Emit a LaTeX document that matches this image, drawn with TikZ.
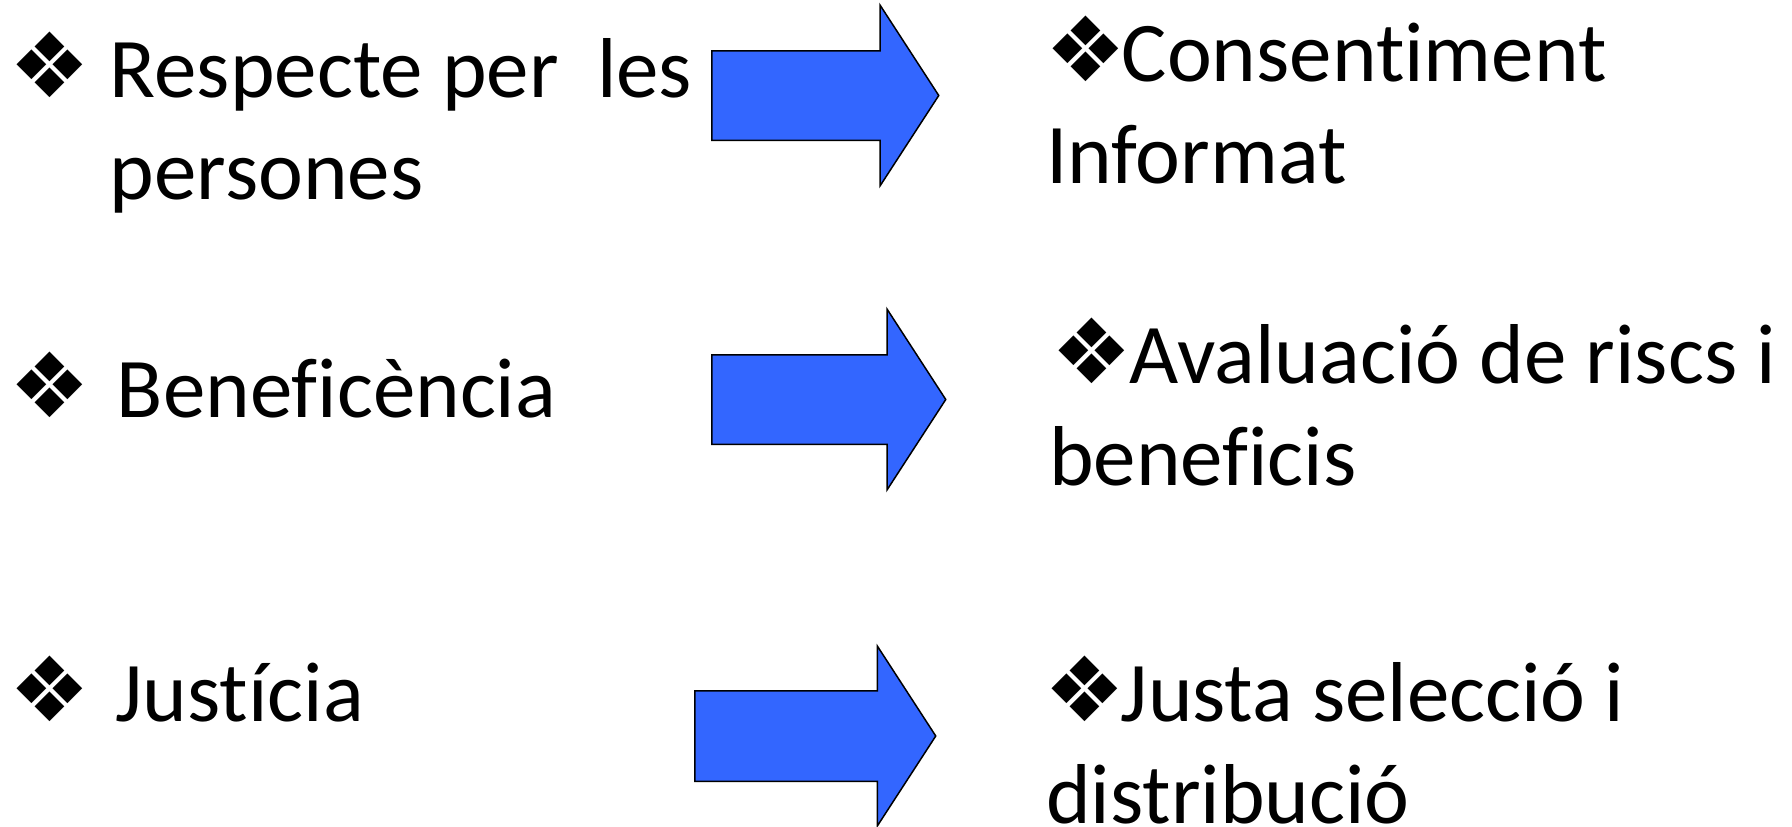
\documentclass[tikz,border=0pt]{standalone}
\usepackage{fontspec}
\setmainfont{Carlito}[Ligatures=NoCommon]
\newfontfamily\bulletfont{DejaVu Sans}
\usetikzlibrary{shapes.arrows, positioning}
\definecolor{arrowblue}{RGB}{51,102,255}

\newcommand{\bul}{{\bulletfont\fontsize{90}{90}\selectfont ❖}}

\begin{document}
\begin{tikzpicture}[x=1pt, y=-1pt,
  txt/.style={inner sep=0pt, anchor=base west, font=\fontsize{85}{102}\selectfont},
  blockarrow/.style={single arrow, draw=black, line width=1.5pt, fill=arrowblue,
    inner xsep=0pt, inner ysep=44pt, anchor=tail,
    single arrow head extend=45.5pt, single arrow tip angle=114}]
\useasboundingbox (0,0) rectangle (1792,827);

% principis
\node[txt] (resp) at (9,97) {\begin{tabular}[t]{@{}l@{\hspace{20pt}}l@{}}\bul & Respecte per\ \ les\\ & persones\end{tabular}};
\node[txt] (benef) at (9,417) {\begin{tabular}[t]{@{}l@{\hspace{27pt}}l@{}}\bul & Beneficència\end{tabular}};
\node[txt] (just) at (9,721) {\begin{tabular}[t]{@{}l@{\hspace{26pt}}l@{}}\bul & Justícia\end{tabular}};

% fletxes
\node[blockarrow, minimum height=227pt] (arr1) at (711,95.5) {};
\node[blockarrow, minimum height=234pt] (arr2) at (711,399.5) {};
\node[blockarrow, minimum height=241pt, inner ysep=44.5pt, single arrow head extend=44.5pt] (arr3) at (694,736) {};

% aplicacions
\node[txt] (cons) at (1046,81) {\begin{tabular}[t]{@{}l@{}}\hspace{-1pt}\bul\hspace{-4pt}Consentiment\\Informat\end{tabular}};
\node[txt] (aval) at (1049,383) {\begin{tabular}[t]{@{}l@{}}\hspace{2pt}\bul\hspace{-2pt}Avaluació de riscs i\\beneficis\end{tabular}};
\node[txt] (sel) at (1046,721) {\begin{tabular}[t]{@{}l@{}}\hspace{-2pt}\bul\hspace{-4pt}Justa selecció i\\distribució\end{tabular}};
\end{tikzpicture}
\end{document}
